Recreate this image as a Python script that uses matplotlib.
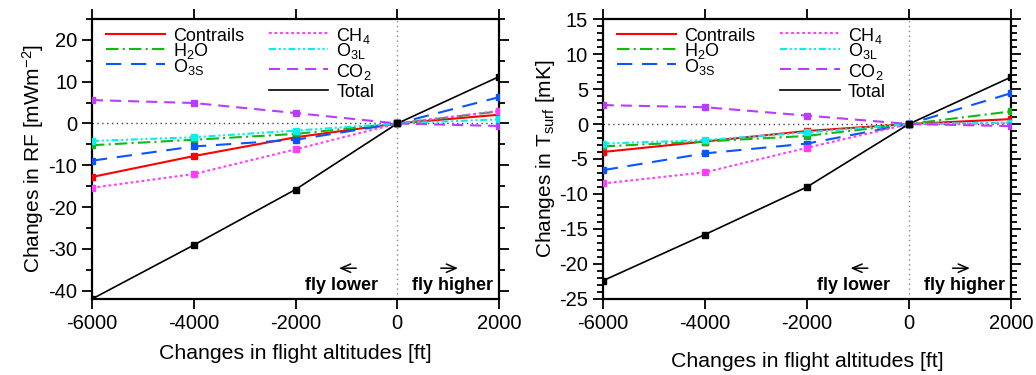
import matplotlib
matplotlib.use('Agg')
import matplotlib.pyplot as plt
from matplotlib.ticker import MultipleLocator

plt.rcParams['font.family'] = ['Liberation Sans', 'DejaVu Sans']
plt.rcParams['mathtext.fontset'] = 'custom'
plt.rcParams['mathtext.rm'] = 'Liberation Sans'
plt.rcParams['mathtext.it'] = 'Liberation Sans:italic'
plt.rcParams['lines.scale_dashes'] = False
plt.rcParams['axes.unicode_minus'] = False

# altitude changes [ft]
altitudes = [-6000, -4000, -2000, 0, 2000]

# radiative forcing changes [mW m-2]
rf_contrails = [-12.8, -7.8, -3.3, 0, 2.1]
rf_h2o = [-5.2, -3.9, -2.5, 0, 2.9]
rf_o3s = [-8.9, -5.5, -3.9, 0, 6.3]
rf_ch4 = [-15.4, -12.1, -6.2, 0, 3.0]
rf_o3l = [-4.2, -3.3, -1.7, 0, 1.0]
rf_co2 = [5.6, 4.9, 2.5, 0, -0.6]
rf_total = [-42.0, -29.1, -15.8, 0, 11.2]

# surface temperature changes [mK]
ts_contrails = [-4.0, -2.5, -1.0, 0, 0.7]
ts_h2o = [-3.2, -2.5, -1.7, 0, 1.8]
ts_o3s = [-6.6, -4.2, -2.8, 0, 4.4]
ts_ch4 = [-8.5, -6.9, -3.4, 0, 0.1]
ts_o3l = [-2.8, -2.3, -1.2, 0, 0.2]
ts_co2 = [2.7, 2.4, 1.2, 0, -0.3]
ts_total = [-22.4, -15.8, -9.0, 0, 6.7]

labels = ['Contrails', 'H$_2$O', 'O$_{\\rm 3S}$', 'CH$_4$', 'O$_{\\rm 3L}$', 'CO$_2$', 'Total']
colors = ['#ff0000', '#13b813', '#0a55ff', '#ff3cff', '#00f0f0', '#b93cff', '#000000']
styles = ['-', (0, (9, 3, 1.5, 3)), (0, (11, 7)), (0, (2, 2)),
          (0, (5, 2, 1.5, 2, 1.5, 2)), (0, (8, 5)), '-']
widths = [1.5, 1.5, 1.5, 1.5, 1.5, 1.5, 1.2]

# legend layout (axes fraction): column start, row heights
leg_x = [0.034, 0.034, 0.034, 0.435, 0.435, 0.435, 0.435]
leg_y = [0.946, 0.893, 0.839, 0.950, 0.893, 0.821, 0.746]

rf_series = [rf_contrails, rf_h2o, rf_o3s, rf_ch4, rf_o3l, rf_co2, rf_total]
ts_series = [ts_contrails, ts_h2o, ts_o3s, ts_ch4, ts_o3l, ts_co2, ts_total]

fig = plt.figure(figsize=(10.36, 3.75), dpi=100)
ax1 = fig.add_axes([0.0888, 0.2027, 0.3929, 0.7466])
ax2 = fig.add_axes([0.5818, 0.2027, 0.3941, 0.7466])


def draw_panel(ax, series, ylim, major, minor, ylabel, xpad):
    ax.axhline(0, color='#444444', lw=1, ls=(0, (1, 2.5)), zorder=1)
    ax.axvline(0, color='#888888', lw=1, ls=(0, (1, 2.5)), zorder=1)
    for vals, c, s, w in zip(series, colors, styles, widths):
        ax.plot(altitudes, vals, color=c, ls=s, lw=w, zorder=3)
        ax.plot(altitudes, vals, ls='none', marker='s', ms=5, color=c, zorder=4)
    ax.set_xlim(-6000, 2000)
    ax.set_ylim(*ylim)
    ax.set_xticks(altitudes)
    ax.yaxis.set_major_locator(MultipleLocator(major))
    ax.yaxis.set_minor_locator(MultipleLocator(minor))
    ax.tick_params(which='both', direction='out', top=True, right=True,
                   labelsize=14.5, width=1.3)
    ax.tick_params(which='major', length=7)
    ax.tick_params(which='minor', length=4)
    for sp in ax.spines.values():
        sp.set_linewidth(1.6)
    ax.set_xlabel('Changes in flight altitudes [ft]', fontsize=15.3, labelpad=xpad)
    ax.set_ylabel(ylabel, fontsize=15, labelpad=2)

    # two-column legend, drawn by hand to match the original spacing
    for lx, ly, lab, c, s, w in zip(leg_x, leg_y, labels, colors, styles, widths):
        ax.plot([lx, lx + 0.145], [ly, ly], transform=ax.transAxes, color=c, ls=s, lw=w,
                clip_on=False)
        ax.text(lx + 0.165, ly, lab, transform=ax.transAxes, va='center_baseline',
                ha='left', fontsize=13)

    ax.text(0.613, 0.048, 'fly lower', transform=ax.transAxes, ha='center', va='center',
            fontsize=13, fontweight='bold')
    ax.text(0.885, 0.048, 'fly higher', transform=ax.transAxes, ha='center', va='center',
            fontsize=13, fontweight='bold')
    arrow = dict(arrowstyle='->,head_length=0.7,head_width=0.3', lw=1.1, color='black')
    ax.annotate('', xy=(0.600, 0.11), xytext=(0.656, 0.11), xycoords='axes fraction',
                arrowprops=arrow)
    ax.annotate('', xy=(0.906, 0.11), xytext=(0.850, 0.11), xycoords='axes fraction',
                arrowprops=arrow)


draw_panel(ax1, rf_series, (-42, 25), 10, 5, 'Changes in RF [mWm$^{-2}$]', 8)
draw_panel(ax2, ts_series, (-25, 15), 5, 1, 'Changes in T$_{\\rm surf}$ [mK]', 14)

fig.savefig('out.png', dpi=100)
